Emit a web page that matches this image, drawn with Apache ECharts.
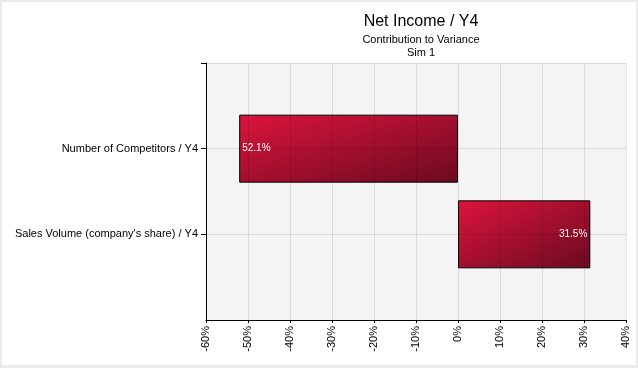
<!DOCTYPE html>
<html>
<head>
<meta charset="utf-8">
<script src="https://cdn.jsdelivr.net/npm/echarts@6/dist/echarts.min.js"></script>
<style>
  html, body { margin: 0; padding: 0; background: #ebebeb; }
  #chart { position: absolute; left: 2px; top: 2px; width: 634px; height: 363px; background: #ffffff; }
</style>
</head>
<body>
<div id="chart"></div>
<script>
const categories = ['', 'Number of Competitors / Y4', "Sales Volume (company's share) / Y4", ''];
const contributions = [null, -52.1, 31.5, null];
const xTicks = [-60, -50, -40, -30, -20, -10, 0, 10, 20, 30, 40];

const FONT = 'Liberation Sans, Arial, sans-serif';
const chart = echarts.init(document.getElementById('chart'), null, { renderer: 'canvas' });

const PLOT_W = 420, AX_MIN = -60, AX_MAX = 40, BAR_H = 68;

// diagonal gradient whose isolines follow the bar's anti-diagonal
function barGradient(v) {
  const w = Math.abs(v) / (AX_MAX - AX_MIN) * PLOT_W;
  const h = BAR_H;
  const s = 2 / (1 / (w * w) + 1 / (h * h));
  return new echarts.graphic.LinearGradient(0, 0, s / (w * w), s / (h * h), [
    { offset: 0, color: '#dc143c' },
    { offset: 1, color: '#6a0a20' }
  ]);
}

const barData = contributions.map(v => {
  if (v === null) return null;
  return {
    value: v,
    itemStyle: { color: barGradient(v) },
    label: { position: v < 0 ? 'insideLeft' : 'insideRight' }
  };
});

chart.setOption({
  animation: false,
  backgroundColor: '#ffffff',
  title: [
    { text: 'Net Income / Y4', left: 414, top: 7, textAlign: 'center',
      textStyle: { fontFamily: FONT, fontSize: 16, fontWeight: 'normal', color: '#000' } },
    { text: 'Contribution to Variance', left: 414, top: 27, textAlign: 'center',
      textStyle: { fontFamily: FONT, fontSize: 11, fontWeight: 'normal', color: '#000' } },
    { text: 'Sim 1', left: 414, top: 40, textAlign: 'center',
      textStyle: { fontFamily: FONT, fontSize: 11, fontWeight: 'normal', color: '#000' } }
  ],
  grid: {
    left: 204, top: 61, width: PLOT_W, height: 257,
    show: true, backgroundColor: '#f4f4f4', borderWidth: 0, containLabel: false
  },
  xAxis: {
    type: 'value', min: AX_MIN, max: AX_MAX, interval: 10, z: 3,
    axisLine: { show: true, onZero: false, lineStyle: { color: '#000', width: 1 } },
    axisTick: { show: true, length: 3, lineStyle: { color: '#000' } },
    splitLine: { show: true, lineStyle: { color: 'rgba(0,0,0,0.1)', width: 1 } },
    axisLabel: {
      rotate: 90, margin: 6, fontFamily: FONT, fontSize: 11, color: '#000',
      formatter: v => xTicks.includes(v) ? v + '%' : ''
    }
  },
  yAxis: {
    type: 'category', data: categories, inverse: true, boundaryGap: false, z: 3,
    axisLine: { show: true, onZero: false, lineStyle: { color: '#000', width: 1 } },
    axisTick: { show: true, length: 5, interval: (idx) => idx < categories.length - 1,
      lineStyle: { color: '#000' } },
    splitLine: { show: true, lineStyle: { color: 'rgba(0,0,0,0.1)', width: 1 } },
    axisLabel: { margin: 8, fontFamily: FONT, fontSize: 11, color: '#000' }
  },
  series: [{
    type: 'bar',
    data: barData,
    barWidth: BAR_H,
    itemStyle: { borderColor: '#000', borderWidth: 1 },
    label: {
      show: true, color: '#ffffff', fontFamily: FONT, fontSize: 10, distance: 3,
      formatter: p => Math.abs(p.value).toFixed(1) + '%'
    }
  }]
});
</script>
</body>
</html>
